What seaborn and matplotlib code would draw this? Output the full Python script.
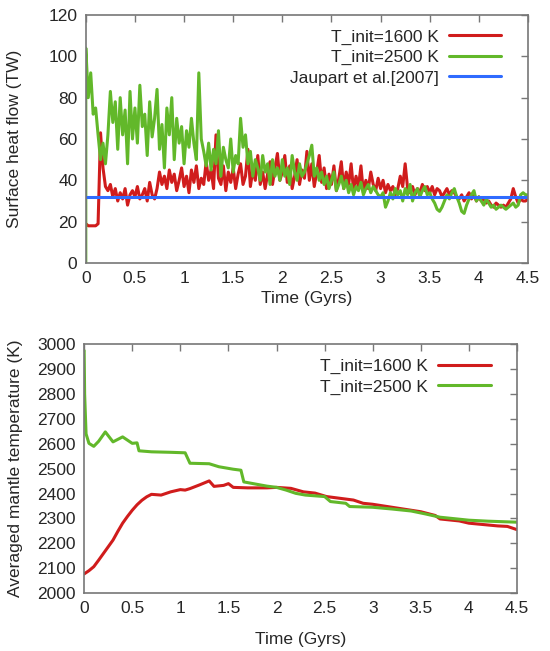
import numpy as np
import pandas as pd
import matplotlib
matplotlib.use("Agg")
import matplotlib.pyplot as plt
import seaborn as sns

# ------------------------------------------------------------------ #
# Data
# ------------------------------------------------------------------ #
# surface heat flow, sampled every 0.025 Gyr from 0 to 4.5
hf_time = np.round(np.linspace(0, 4.5, 181), 3)

hf_1600 = [
    19, 18, 18, 18, 18, 19, 63, 46, 37, 35,
    38, 32, 36, 30, 34, 31, 36, 28, 33, 35,
    32, 37, 31, 33, 36, 30, 39, 33, 31, 36,
    44, 38, 42, 36, 45, 39, 43, 35, 40, 46,
    37, 42, 34, 45, 39, 47, 36, 41, 38, 49,
    40, 45, 36, 62, 41, 38, 47, 35, 44, 39,
    46, 36, 43, 48, 38, 42, 55, 37, 45, 40,
    52, 38, 44, 36, 43, 49, 38, 46, 53, 40,
    44, 52, 39, 47, 36, 42, 50, 38, 45, 41,
    54, 40, 48, 37, 44, 52, 39, 46, 36, 43,
    38, 47, 35, 41, 49, 36, 44, 38, 48, 35,
    42, 37, 47, 34, 40, 36, 44, 38, 35, 41,
    36, 40, 34, 38, 35, 37, 33, 36, 42, 37,
    48, 36, 34, 37, 33, 36, 34, 38, 35, 37,
    34, 37, 33, 36, 35, 32, 34, 36, 33, 35,
    34, 32, 31, 33, 30, 32, 34, 31, 33, 30,
    32, 30, 31, 29, 30, 28, 27, 29, 28, 27,
    28, 27, 29, 31, 36, 32, 29, 31, 30, 30,
    31,
]

hf_2500 = [
    104, 80, 92, 72, 75, 62, 50, 58, 48, 62,
    83, 68, 78, 55, 80, 62, 74, 48, 83, 60,
    75, 58, 86, 66, 72, 52, 78, 61, 70, 84,
    55, 67, 46, 75, 62, 80, 50, 70, 58, 66,
    48, 64, 56, 70, 58, 50, 92, 60, 54, 47,
    58, 45, 55, 48, 64, 42, 56, 50, 46, 60,
    44, 52, 48, 70, 56, 62, 48, 54, 42, 50,
    46, 40, 52, 44, 48, 38, 50, 42, 46, 40,
    50, 42, 46, 38, 52, 44, 40, 48, 42, 44,
    48, 52, 57, 42, 46, 40, 44, 38, 42, 36,
    40, 44, 35, 38, 42, 36, 40, 34, 38, 33,
    37, 35, 39, 33, 36, 38, 34, 37, 35, 33,
    32, 34, 27, 30, 34, 31, 36, 33, 35, 30,
    36, 33, 38, 30, 34, 36, 32, 35, 37, 33,
    34, 31, 29, 26, 25, 27, 30, 33, 31, 34,
    36, 32, 29, 25, 24, 28, 31, 33, 35, 30,
    32, 30, 28, 31, 29, 27, 28, 26, 27, 28,
    27, 26, 27, 28, 29, 27, 28, 33, 34, 33,
    33,
]

jaupart_time = [0.0, 4.5]
jaupart_hf = [32, 32]

# averaged mantle temperature
t_1600 = [0, 0.05, 0.1, 0.15, 0.2, 0.25, 0.3, 0.35, 0.4, 0.45, 0.5, 0.55,
          0.6, 0.65, 0.7, 0.8, 0.9, 1.0, 1.05, 1.1, 1.2, 1.3, 1.35, 1.45,
          1.5, 1.55, 1.7, 1.9, 2.0, 2.15, 2.28, 2.4, 2.52, 2.66, 2.8, 2.9,
          3.0, 3.2, 3.4, 3.5, 3.65, 3.7, 3.9, 4.0, 4.3, 4.4, 4.5]
temp_1600 = [2077, 2090, 2106, 2132, 2159, 2186, 2213, 2248, 2281, 2308,
             2333, 2355, 2373, 2387, 2397, 2394, 2407, 2416, 2414, 2420,
             2435, 2451, 2429, 2433, 2440, 2425, 2423, 2423, 2425, 2421,
             2407, 2402, 2388, 2381, 2374, 2361, 2357, 2345, 2333, 2327,
             2312, 2298, 2290, 2281, 2270, 2268, 2255]

t_2500 = [0, 0.005, 0.02, 0.05, 0.1, 0.15, 0.22, 0.3, 0.4, 0.5, 0.55,
          0.57, 0.7, 0.9, 1.05, 1.1, 1.3, 1.4, 1.55, 1.63, 1.66, 1.8, 1.9,
          2.0, 2.1, 2.2, 2.3, 2.5, 2.56, 2.72, 2.76, 3.0, 3.2, 3.4, 3.55,
          3.7, 4.0, 4.2, 4.5]
temp_2500 = [2975, 2800, 2640, 2602, 2590, 2610, 2648, 2608, 2628, 2602,
             2604, 2572, 2568, 2566, 2564, 2522, 2520, 2508, 2498, 2494,
             2447, 2437, 2430, 2425, 2414, 2401, 2394, 2388, 2368, 2361,
             2348, 2345, 2338, 2330, 2318, 2305, 2293, 2289, 2285]

RED = "#d01c1c"
GREEN = "#62b82a"
BLUE = "#2f6bff"

# ------------------------------------------------------------------ #
# Figure
# ------------------------------------------------------------------ #
sns.set_style("white")
plt.rcParams["font.family"] = ["Liberation Sans", "DejaVu Sans"]
plt.rcParams["font.size"] = 12.5

fig = plt.figure(figsize=(5.5, 6.51), dpi=100)
ax1 = fig.add_axes([0.156, 0.596, 0.804, 0.381])
ax2 = fig.add_axes([0.153, 0.089, 0.787, 0.382])

df_top = pd.DataFrame({
    "time": np.concatenate([[0.0], hf_time]),
    "hf_2500": np.concatenate([[0.0], hf_2500]),
})
df_red = pd.DataFrame({"time": hf_time, "hf": hf_1600})

lw = 2.2
sns.lineplot(data=df_red, x="time", y="hf", color=RED, lw=lw,
             estimator=None, sort=False, ax=ax1, label="T_init=1600 K")
sns.lineplot(data=df_top, x="time", y="hf_2500", color=GREEN, lw=lw,
             estimator=None, sort=False, ax=ax1, label="T_init=2500 K")
sns.lineplot(x=jaupart_time, y=jaupart_hf, color=BLUE, lw=lw,
             estimator=None, ax=ax1, label="Jaupart et al.[2007]")

sns.lineplot(x=t_1600, y=temp_1600, color=RED, lw=lw, estimator=None,
             sort=False, ax=ax2, label="T_init=1600 K")
sns.lineplot(x=t_2500, y=temp_2500, color=GREEN, lw=lw, estimator=None,
             sort=False, ax=ax2, label="T_init=2500 K")

ax1.set_xlim(0, 4.5)
ax1.set_ylim(0, 120)
ax1.set_yticks(np.arange(0, 121, 20))
ax2.set_xlim(0, 4.5)
ax2.set_ylim(2000, 3000)
ax2.set_yticks(np.arange(2000, 3001, 100))

for ax in (ax1, ax2):
    ax.set_xticks(np.arange(0, 4.51, 0.5))
    ax.set_xticklabels(["0", "0.5", "1", "1.5", "2", "2.5", "3", "3.5", "4", "4.5"])
    ax.tick_params(direction="in", top=True, right=True, length=5,
                   width=1, color="#777777", labelsize=12.5, pad=6)
    for sp in ax.spines.values():
        sp.set_color("#777777")
        sp.set_linewidth(1.2)
    ax.grid(False)

ax1.set_xlabel("Time (Gyrs)", fontsize=12.5, labelpad=3)
ax1.set_ylabel("Surface heat flow (TW)", fontsize=12.5)
ax1.yaxis.set_label_coords(-0.145, 0.5)

ax2.set_xlabel("Time (Gyrs)", fontsize=12.5, labelpad=11)
ax2.set_ylabel("Averaged mantle temperature (K)", fontsize=12.5)
ax2.yaxis.set_label_coords(-0.141, 0.5)

leg_kw = dict(frameon=False, markerfirst=False, handlelength=3.0,
              labelspacing=0.3, handletextpad=0.6, fontsize=12.5,
              loc="upper right", borderaxespad=0.0)
ax1.legend(bbox_to_anchor=(0.955, 0.97), **leg_kw)
ax2.legend(bbox_to_anchor=(0.955, 0.97), **leg_kw)

fig.savefig("out.png", dpi=100)
